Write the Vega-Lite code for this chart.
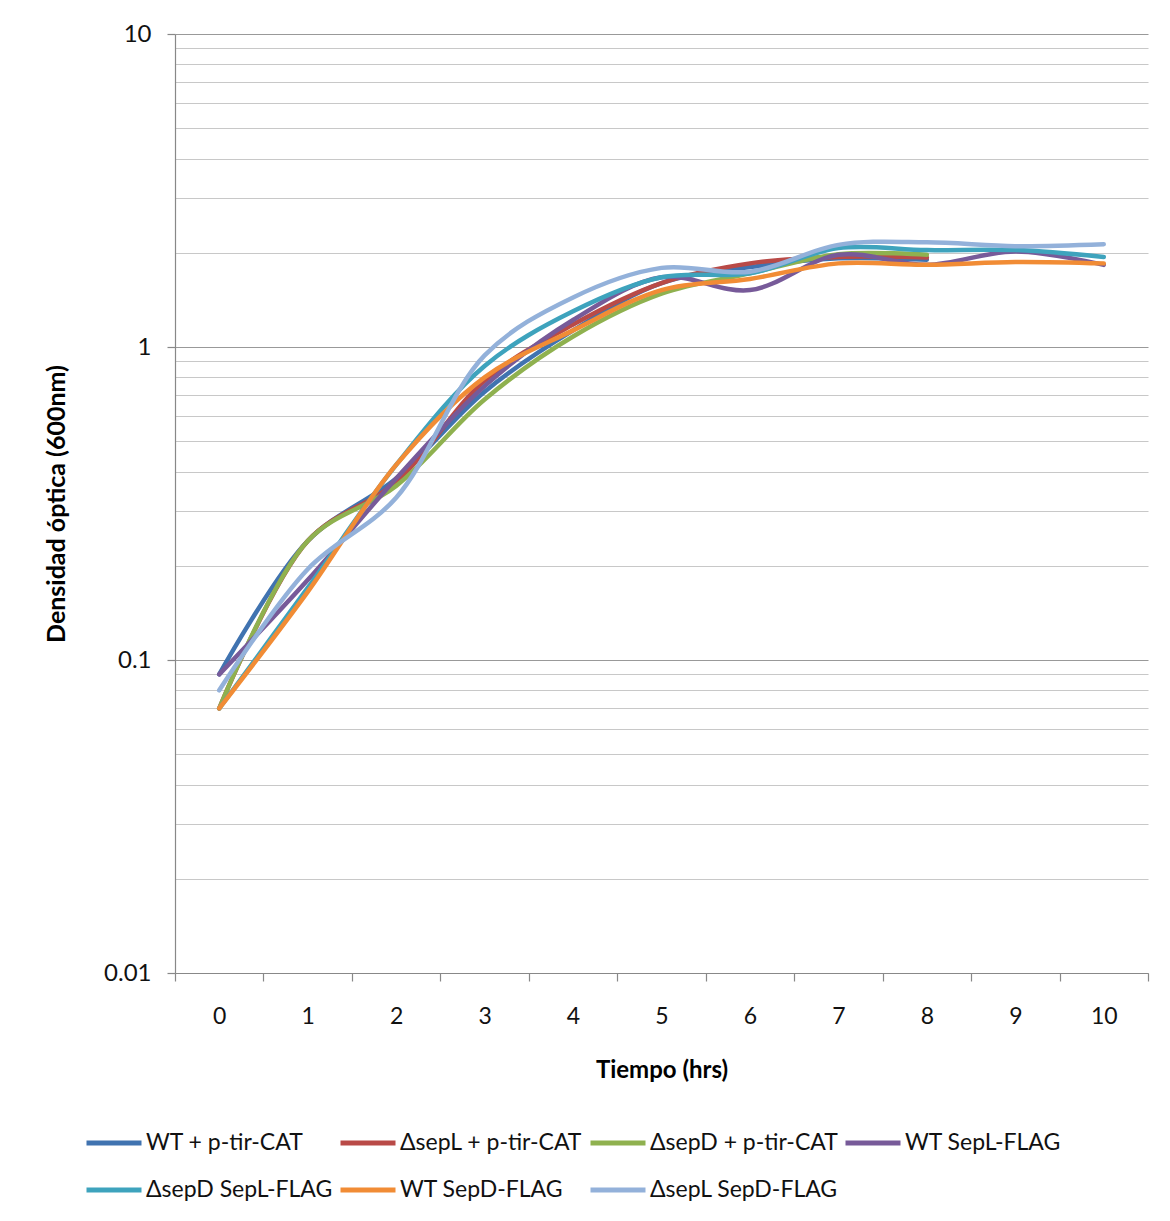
{
  "$schema": "https://vega.github.io/schema/vega-lite/v6.json",
  "autosize": {"type": "none"},
  "width": 973,
  "height": 939,
  "padding": {"left": 175, "top": 34, "right": 22, "bottom": 248},
  "background": "white",
  "config": {
    "view": {"stroke": null},
    "font": "Lato",
    "axis": {"labelFont": "Lato", "titleFont": "Lato"}
  },
  "data": {
    "values": [
      {"serie": "WT + p-tir-CAT", "t": 0, "od": 0.09},
      {"serie": "WT + p-tir-CAT", "t": 1, "od": 0.24},
      {"serie": "WT + p-tir-CAT", "t": 2, "od": 0.38},
      {"serie": "WT + p-tir-CAT", "t": 3, "od": 0.72},
      {"serie": "WT + p-tir-CAT", "t": 4, "od": 1.13},
      {"serie": "WT + p-tir-CAT", "t": 5, "od": 1.6},
      {"serie": "WT + p-tir-CAT", "t": 6, "od": 1.8},
      {"serie": "WT + p-tir-CAT", "t": 7, "od": 1.92},
      {"serie": "WT + p-tir-CAT", "t": 8, "od": 1.9},
      {"serie": "ΔsepL + p-tir-CAT", "t": 0, "od": 0.07},
      {"serie": "ΔsepL + p-tir-CAT", "t": 1, "od": 0.24},
      {"serie": "ΔsepL + p-tir-CAT", "t": 2, "od": 0.37},
      {"serie": "ΔsepL + p-tir-CAT", "t": 3, "od": 0.78},
      {"serie": "ΔsepL + p-tir-CAT", "t": 4, "od": 1.18},
      {"serie": "ΔsepL + p-tir-CAT", "t": 5, "od": 1.6},
      {"serie": "ΔsepL + p-tir-CAT", "t": 6, "od": 1.85},
      {"serie": "ΔsepL + p-tir-CAT", "t": 7, "od": 1.94},
      {"serie": "ΔsepL + p-tir-CAT", "t": 8, "od": 1.93},
      {"serie": "ΔsepD + p-tir-CAT", "t": 0, "od": 0.07},
      {"serie": "ΔsepD + p-tir-CAT", "t": 1, "od": 0.24},
      {"serie": "ΔsepD + p-tir-CAT", "t": 2, "od": 0.36},
      {"serie": "ΔsepD + p-tir-CAT", "t": 3, "od": 0.68},
      {"serie": "ΔsepD + p-tir-CAT", "t": 4, "od": 1.08},
      {"serie": "ΔsepD + p-tir-CAT", "t": 5, "od": 1.48},
      {"serie": "ΔsepD + p-tir-CAT", "t": 6, "od": 1.72},
      {"serie": "ΔsepD + p-tir-CAT", "t": 7, "od": 1.98},
      {"serie": "ΔsepD + p-tir-CAT", "t": 8, "od": 1.97},
      {"serie": "WT SepL-FLAG", "t": 0, "od": 0.09},
      {"serie": "WT SepL-FLAG", "t": 1, "od": 0.18},
      {"serie": "WT SepL-FLAG", "t": 2, "od": 0.38},
      {"serie": "WT SepL-FLAG", "t": 3, "od": 0.75},
      {"serie": "WT SepL-FLAG", "t": 4, "od": 1.22},
      {"serie": "WT SepL-FLAG", "t": 5, "od": 1.67},
      {"serie": "WT SepL-FLAG", "t": 6, "od": 1.52},
      {"serie": "WT SepL-FLAG", "t": 7, "od": 1.97},
      {"serie": "WT SepL-FLAG", "t": 8, "od": 1.83},
      {"serie": "WT SepL-FLAG", "t": 9, "od": 2.02},
      {"serie": "WT SepL-FLAG", "t": 10, "od": 1.83},
      {"serie": "ΔsepD SepL-FLAG", "t": 0, "od": 0.07},
      {"serie": "ΔsepD SepL-FLAG", "t": 1, "od": 0.17},
      {"serie": "ΔsepD SepL-FLAG", "t": 2, "od": 0.42},
      {"serie": "ΔsepD SepL-FLAG", "t": 3, "od": 0.87},
      {"serie": "ΔsepD SepL-FLAG", "t": 4, "od": 1.3},
      {"serie": "ΔsepD SepL-FLAG", "t": 5, "od": 1.67},
      {"serie": "ΔsepD SepL-FLAG", "t": 6, "od": 1.72},
      {"serie": "ΔsepD SepL-FLAG", "t": 7, "od": 2.07},
      {"serie": "ΔsepD SepL-FLAG", "t": 8, "od": 2.04},
      {"serie": "ΔsepD SepL-FLAG", "t": 9, "od": 2.04},
      {"serie": "ΔsepD SepL-FLAG", "t": 10, "od": 1.94},
      {"serie": "WT SepD-FLAG", "t": 0, "od": 0.07},
      {"serie": "WT SepD-FLAG", "t": 1, "od": 0.165},
      {"serie": "WT SepD-FLAG", "t": 2, "od": 0.42},
      {"serie": "WT SepD-FLAG", "t": 3, "od": 0.8},
      {"serie": "WT SepD-FLAG", "t": 4, "od": 1.13},
      {"serie": "WT SepD-FLAG", "t": 5, "od": 1.52},
      {"serie": "WT SepD-FLAG", "t": 6, "od": 1.65},
      {"serie": "WT SepD-FLAG", "t": 7, "od": 1.85},
      {"serie": "WT SepD-FLAG", "t": 8, "od": 1.83},
      {"serie": "WT SepD-FLAG", "t": 9, "od": 1.87},
      {"serie": "WT SepD-FLAG", "t": 10, "od": 1.85},
      {"serie": "ΔsepL SepD-FLAG", "t": 0, "od": 0.08},
      {"serie": "ΔsepL SepD-FLAG", "t": 1, "od": 0.195},
      {"serie": "ΔsepL SepD-FLAG", "t": 2, "od": 0.33},
      {"serie": "ΔsepL SepD-FLAG", "t": 3, "od": 0.94},
      {"serie": "ΔsepL SepD-FLAG", "t": 4, "od": 1.44},
      {"serie": "ΔsepL SepD-FLAG", "t": 5, "od": 1.79},
      {"serie": "ΔsepL SepD-FLAG", "t": 6, "od": 1.74},
      {"serie": "ΔsepL SepD-FLAG", "t": 7, "od": 2.12},
      {"serie": "ΔsepL SepD-FLAG", "t": 8, "od": 2.16},
      {"serie": "ΔsepL SepD-FLAG", "t": 9, "od": 2.1},
      {"serie": "ΔsepL SepD-FLAG", "t": 10, "od": 2.13}
    ]
  },
  "layer": [
    {
      "mark": {"type": "line", "strokeWidth": 0, "opacity": 0},
      "encoding": {
        "x": {
          "field": "t", "type": "ordinal",
          "scale": {"type": "band", "paddingInner": 0, "paddingOuter": 0},
          "axis": {
            "title": "Tiempo (hrs)",
            "titleFontSize": 24, "titleFontWeight": "bold", "titleColor": "#000", "titlePadding": 30,
            "labelAngle": 0, "labelFontSize": 23, "labelColor": "#111", "labelPadding": 24,
            "tickBand": "extent", "tickSize": 8, "tickColor": "#888", "tickWidth": 1.2,
            "domainColor": "#888", "domainWidth": 1.2, "grid": false
          }
        },
        "y": {
          "field": "od", "type": "quantitative",
          "scale": {"type": "log", "domain": [0.01, 10], "nice": false},
          "axis": {
            "orient": "left",
            "values": [0.02, 0.03, 0.04, 0.05, 0.06, 0.07, 0.08, 0.09, 0.2, 0.3, 0.4, 0.5, 0.6, 0.7, 0.8, 0.9, 2, 3, 4, 5, 6, 7, 8, 9],
            "labels": false, "ticks": false, "domain": false, "title": null,
            "grid": true, "gridColor": "#c8c8c8", "gridWidth": 1.2
          }
        },
        "detail": {"field": "serie"}
      }
    },
    {
      "mark": {"type": "line", "interpolate": "catmull-rom", "strokeWidth": 4.5, "strokeCap": "round"},
      "encoding": {
        "x": {
          "field": "t", "type": "ordinal",
          "scale": {"type": "band", "paddingInner": 0, "paddingOuter": 0},
          "axis": {
            "title": "Tiempo (hrs)",
            "titleFontSize": 24, "titleFontWeight": "bold", "titleColor": "#000", "titlePadding": 30,
            "labelAngle": 0, "labelFontSize": 23, "labelColor": "#111", "labelPadding": 24,
            "tickBand": "extent", "tickSize": 8, "tickColor": "#888", "tickWidth": 1.2,
            "domainColor": "#888", "domainWidth": 1.2, "grid": false
          }
        },
        "y": {
          "field": "od", "type": "quantitative",
          "scale": {"type": "log", "domain": [0.01, 10], "nice": false},
          "axis": {
            "orient": "left",
            "values": [0.01, 0.1, 1, 10], "format": "~g",
            "title": "Densidad óptica (600nm)",
            "titleFontSize": 25, "titleFontWeight": "bold", "titleColor": "#000", "titlePadding": 34,
            "labelFontSize": 24, "labelColor": "#111", "labelPadding": 16,
            "tickSize": 8, "tickColor": "#888", "tickWidth": 1.2,
            "domainColor": "#888", "domainWidth": 1.2,
            "grid": true, "gridColor": "#999", "gridWidth": 1.2
          }
        },
        "color": {
          "field": "serie", "type": "nominal",
          "scale": {
            "domain": ["WT + p-tir-CAT", "ΔsepL + p-tir-CAT", "ΔsepD + p-tir-CAT", "WT SepL-FLAG", "ΔsepD SepL-FLAG", "WT SepD-FLAG", "ΔsepL SepD-FLAG"],
            "range": ["#4073b0", "#b94a47", "#8fb14f", "#775a99", "#3ea3bd", "#f18c35", "#93b1da"]
          },
          "legend": {
            "title": null, "orient": "none", "legendX": -91, "legendY": 1079,
            "direction": "horizontal", "columns": 4, "gridAlign": "each",
            "symbolType": "stroke", "symbolSize": 3025, "symbolStrokeWidth": 5,
            "labelFontSize": 23, "labelColor": "#111", "labelOffset": 2,
            "columnPadding": -3, "rowPadding": 5, "labelLimit": 400
          }
        },
        "order": {"field": "t", "type": "quantitative"}
      }
    }
  ],
  "resolve": {"axis": {"y": "independent"}}
}
